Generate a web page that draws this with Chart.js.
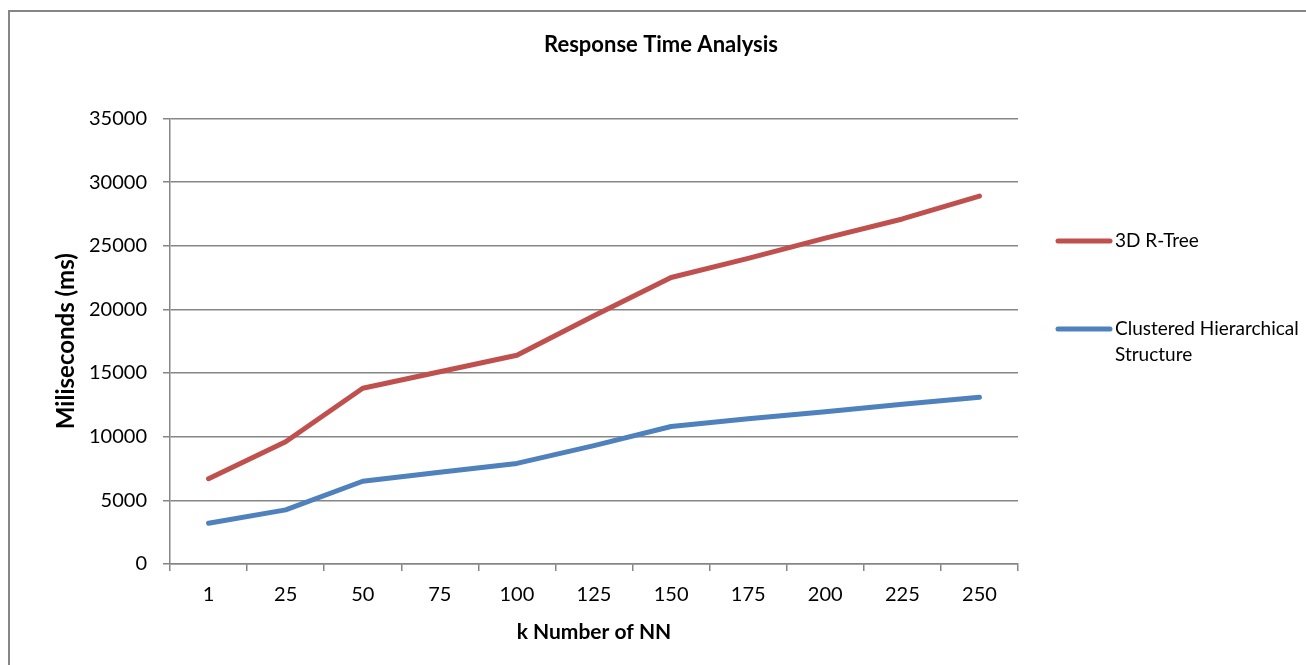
<!DOCTYPE html>
<html>
<head>
<meta charset="utf-8">
<script src="https://cdn.jsdelivr.net/npm/chart.js@4"></script>
<style>
  body { margin: 0; background: #fff; }
  canvas { display: block; }
</style>
</head>
<body>
<canvas id="responseChart" width="1306" height="665"></canvas>
<script>
const kValues = ["1", "25", "50", "75", "100", "125", "150", "175", "200", "225", "250"];
const rTreeMs = [6700, 9600, 13800, 15100, 16400, 19500, 22500, 24000, 25600, 27100, 28900];
const clusteredMs = [3200, 4250, 6500, 7200, 7900, 9300, 10800, 11400, 11950, 12550, 13100];
const seriesNames = ["3D R-Tree", "Clustered Hierarchical Structure"];
const seriesColors = ["#C0504D", "#4F81BD"];

const gridGray = "#868686";
Chart.defaults.font.family = "Lato, 'Open Sans', sans-serif";
Chart.defaults.color = "#000";

// outer frame of the chart object
const framePlugin = {
  id: "frame",
  beforeDraw(chart) {
    const c = chart.ctx;
    c.save();
    c.fillStyle = "#fff";
    c.fillRect(0, 0, chart.width, chart.height);
    c.strokeStyle = gridGray;
    c.lineWidth = 2;
    c.strokeRect(9, 11, 1400, 800);
    c.restore();
  },
};

// legend on the right, line sample + wrapped label
const sideLegend = {
  id: "sideLegend",
  afterDraw(chart) {
    const c = chart.ctx;
    const rows = [241, 329];
    c.save();
    c.font = "19px Lato, 'Open Sans', sans-serif";
    c.textBaseline = "middle";
    chart.data.datasets.forEach((ds, i) => {
      const y = rows[i];
      c.strokeStyle = ds.borderColor;
      c.lineWidth = 5;
      c.lineCap = "round";
      c.beginPath();
      c.moveTo(1058, y);
      c.lineTo(1110, y);
      c.stroke();
      c.fillStyle = "#000";
      // simple word wrap
      const words = ds.label.split(" ");
      let line = "", lines = [];
      words.forEach((w) => {
        const t = line ? line + " " + w : w;
        if (c.measureText(t).width > 200 && line) {
          lines.push(line);
          line = w;
        } else line = t;
      });
      lines.push(line);
      lines.forEach((l, j) => c.fillText(l, 1115, y + j * 26));
    });
    c.restore();
  },
};

new Chart(document.getElementById("responseChart"), {
  type: "line",
  data: {
    labels: kValues,
    datasets: [
      {
        label: seriesNames[0],
        data: rTreeMs,
        borderColor: seriesColors[0],
        backgroundColor: seriesColors[0],
      },
      {
        label: seriesNames[1],
        data: clusteredMs,
        borderColor: seriesColors[1],
        backgroundColor: seriesColors[1],
      },
    ],
  },
  options: {
    responsive: false,
    animation: false,
    layout: { padding: { left: 16, right: 0, top: 0, bottom: 0 } },
    elements: {
      point: { radius: 0, hoverRadius: 0 },
      line: { borderWidth: 5, tension: 0, borderCapStyle: "round", borderJoinStyle: "round" },
    },
    plugins: {
      legend: { display: false },
      tooltip: { enabled: false },
      title: {
        display: true,
        text: "Response Time Analysis",
        font: { size: 22, weight: "bold" },
        color: "#000",
        padding: { top: 32, bottom: 60 },
      },
    },
    scales: {
      x: {
        offset: true,
        afterFit(s) { s.height = 101; },
        grid: {
          offset: true,
          drawOnChartArea: false,
          tickLength: 7,
          color: gridGray,
          lineWidth: 1.5,
        },
        border: { color: gridGray, width: 1.5 },
        ticks: { font: { size: 20 }, padding: 12, maxRotation: 0 },
        title: {
          display: true,
          text: "k Number of NN",
          font: { size: 21, weight: "bold" },
          padding: { top: 0, bottom: 20 },
        },
      },
      y: {
        min: 0,
        max: 35000,
        afterFit(s) { s.width = 154; },
        grid: { tickLength: 7, color: gridGray, lineWidth: 1.5 },
        border: { color: gridGray, width: 1.5 },
        ticks: {
          stepSize: 5000,
          font: { size: 20 },
          padding: 16,
          callback: (v) => String(v),
        },
        title: {
          display: true,
          text: "Miliseconds (ms)",
          font: { size: 24, weight: "bold" },
          padding: { top: 36, bottom: 0 },
        },
      },
      // empty right-hand axis reserving the legend column
      yRight: {
        position: "right",
        afterFit(s) { s.width = 288; },
        grid: { display: false },
        border: { display: false },
        ticks: { display: false },
      },
    },
  },
  plugins: [framePlugin, sideLegend],
});
</script>
</body>
</html>
